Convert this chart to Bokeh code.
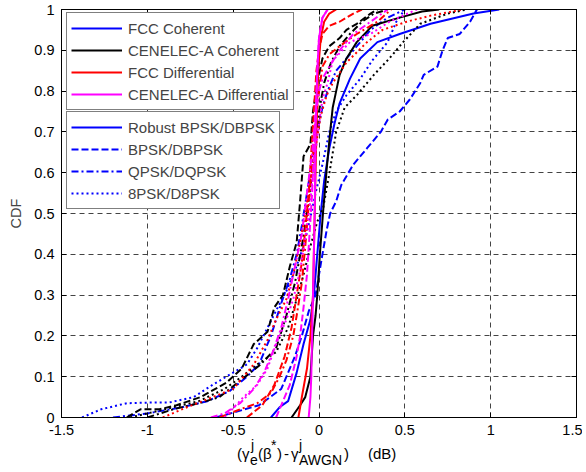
import numpy as np
from bokeh.plotting import figure
from bokeh.layouts import column
from bokeh.models import Legend, LegendItem, FixedTicker, Range1d, Div, LinearAxis
from bokeh.embed import file_html
from bokeh.resources import INLINE

# ---------------- data ----------------
x_ticks = [-1.5, -1, -0.5, 0, 0.5, 1, 1.5]
x_tick_labels = ["-1.5", "-1", "-0.5", "0", "0.5", "1", "1.5"]
y_ticks = [0, 0.1, 0.2, 0.3, 0.4, 0.5, 0.6, 0.7, 0.8, 0.9, 1]
y_tick_labels = ["0", "0.1", "0.2", "0.3", "0.4", "0.5", "0.6", "0.7", "0.8", "0.9", "1"]

standards = ["FCC Coherent", "CENELEC-A Coherent", "FCC Differential", "CENELEC-A Differential"]
schemes = ["Robust BPSK/DBPSK", "BPSK/DBPSK", "QPSK/DQPSK", "8PSK/D8PSK"]

# FCC Coherent (blue)
fcc_coh_robust_x = [-0.28, -0.23, -0.18, -0.13, -0.09, -0.05, -0.03, -0.01, 0.01, 0.03, 0.06, 0.09, 0.12, 0.18, 0.24, 0.34, 0.47, 0.65, 0.9, 1.05]
fcc_coh_robust_y = [0, 0.025, 0.04, 0.11, 0.18, 0.24, 0.3, 0.4, 0.5, 0.58, 0.66, 0.72, 0.77, 0.83, 0.88, 0.92, 0.94, 0.965, 0.99, 1.0]
fcc_coh_bpsk_x = [-0.6, -0.35, -0.22, -0.14, -0.1, -0.06, -0.02, 0.0, 0.02, 0.045, 0.065, 0.1, 0.13, 0.2, 0.28, 0.36, 0.40, 0.47, 0.53, 0.59, 0.61, 0.69, 0.72, 0.75, 0.82, 0.88, 0.92]
fcc_coh_bpsk_y = [0, 0.03, 0.07, 0.15, 0.2, 0.26, 0.3, 0.35, 0.4, 0.46, 0.5, 0.53, 0.57, 0.62, 0.66, 0.70, 0.73, 0.75, 0.78, 0.82, 0.84, 0.86, 0.9, 0.93, 0.94, 0.97, 1.0]
fcc_coh_qpsk_x = [-1.2, -1.0, -0.8, -0.65, -0.52, -0.42, -0.35, -0.28, -0.22, -0.17, -0.13, -0.1, -0.07, -0.04, -0.01, 0.02, 0.05, 0.1, 0.2, 0.3, 0.4, 0.5]
fcc_coh_qpsk_y = [0, 0.01, 0.025, 0.04, 0.065, 0.1, 0.13, 0.2, 0.28, 0.34, 0.4, 0.47, 0.55, 0.63, 0.7, 0.76, 0.8, 0.85, 0.9, 0.95, 0.98, 1.0]
fcc_coh_8psk_x = [-1.38, -1.27, -1.12, -0.95, -0.87, -0.73, -0.62, -0.54, -0.42, -0.36, -0.3, -0.24, -0.19, -0.14, -0.09, -0.05, -0.02, 0.02, 0.06, 0.1, 0.16, 0.24, 0.31, 0.4, 0.45, 0.5]
fcc_coh_8psk_y = [0, 0.02, 0.035, 0.037, 0.037, 0.05, 0.08, 0.1, 0.13, 0.17, 0.22, 0.27, 0.31, 0.36, 0.42, 0.49, 0.55, 0.62, 0.7, 0.75, 0.79, 0.83, 0.875, 0.92, 0.97, 1.0]

# CENELEC-A Coherent (black)
cen_coh_robust_x = [-0.16, -0.11, -0.08, -0.05, -0.035, -0.02, -0.01, 0.005, 0.025, 0.045, 0.065, 0.08, 0.1, 0.12, 0.16, 0.22, 0.31, 0.47, 0.6, 0.7]
cen_coh_robust_y = [0, 0.03, 0.05, 0.1, 0.2, 0.25, 0.3, 0.4, 0.51, 0.61, 0.7, 0.76, 0.8, 0.84, 0.88, 0.92, 0.96, 0.98, 0.995, 1.0]
cen_coh_bpsk_x = [-1.12, -1.04, -0.93, -0.83, -0.69, -0.54, -0.45, -0.38, -0.3, -0.26, -0.21, -0.17, -0.13, -0.11, -0.09, -0.05, -0.035, -0.01, 0.02, 0.06, 0.12, 0.16, 0.22, 0.3, 0.34]
cen_coh_bpsk_y = [0, 0.02, 0.02, 0.03, 0.05, 0.085, 0.12, 0.18, 0.21, 0.27, 0.3, 0.37, 0.43, 0.53, 0.64, 0.67, 0.75, 0.82, 0.88, 0.91, 0.93, 0.95, 0.965, 0.99, 1.0]
cen_coh_qpsk_x = [-1.0, -0.85, -0.7, -0.58, -0.46, -0.34, -0.25, -0.19, -0.14, -0.1, -0.07, -0.04, -0.02, 0.0, 0.03, 0.07, 0.12, 0.18, 0.25, 0.32, 0.4]
cen_coh_qpsk_y = [0, 0.02, 0.035, 0.05, 0.09, 0.13, 0.17, 0.25, 0.33, 0.42, 0.5, 0.6, 0.68, 0.75, 0.82, 0.87, 0.91, 0.94, 0.97, 0.99, 1.0]
cen_coh_8psk_x = [-1.1, -0.9, -0.7, -0.55, -0.45, -0.36, -0.25, -0.18, -0.13, -0.09, -0.05, -0.01, 0.025, 0.065, 0.1, 0.15, 0.22, 0.32, 0.41, 0.49, 0.59, 0.75, 0.86]
cen_coh_8psk_y = [0, 0.02, 0.04, 0.07, 0.1, 0.13, 0.16, 0.22, 0.29, 0.35, 0.42, 0.48, 0.515, 0.61, 0.7, 0.76, 0.79, 0.84, 0.88, 0.92, 0.965, 0.99, 1.0]

# FCC Differential (red)
fcc_dif_robust_x = [-0.12, -0.1, -0.07, -0.05, -0.035, -0.025, -0.015, -0.005, 0.01, 0.03, 0.06, 0.1]
fcc_dif_robust_y = [0, 0.05, 0.12, 0.2, 0.3, 0.5, 0.7, 0.85, 0.93, 0.97, 0.99, 1.0]
fcc_dif_bpsk_x = [-0.42, -0.33, -0.26, -0.2, -0.16, -0.13, -0.1, -0.08, -0.06, -0.045, -0.03, -0.015, 0.0, 0.02, 0.06, 0.12, 0.16, 0.2, 0.25]
fcc_dif_bpsk_y = [0, 0.03, 0.08, 0.15, 0.22, 0.3, 0.38, 0.46, 0.55, 0.65, 0.75, 0.85, 0.9, 0.94, 0.96, 0.97, 0.98, 0.99, 1.0]
fcc_dif_qpsk_x = [-0.58, -0.46, -0.36, -0.28, -0.23, -0.19, -0.15, -0.13, -0.1, -0.08, -0.06, -0.04, -0.02, 0.0, 0.02, 0.06, 0.12, 0.22, 0.34, 0.42]
fcc_dif_qpsk_y = [0, 0.02, 0.035, 0.06, 0.1, 0.14, 0.2, 0.25, 0.33, 0.42, 0.52, 0.62, 0.72, 0.8, 0.86, 0.89, 0.91, 0.94, 0.97, 1.0]
fcc_dif_8psk_x = [-0.91, -0.77, -0.62, -0.5, -0.38, -0.3, -0.25, -0.19, -0.15, -0.11, -0.08, -0.05, -0.02, 0.01, 0.045, 0.08, 0.16, 0.28, 0.37, 0.51, 0.65, 0.84]
fcc_dif_8psk_y = [0, 0.025, 0.05, 0.07, 0.13, 0.19, 0.24, 0.29, 0.35, 0.43, 0.5, 0.58, 0.66, 0.74, 0.79, 0.82, 0.87, 0.92, 0.95, 0.97, 0.985, 1.0]

# CENELEC-A Differential (magenta)
cen_dif_robust_x = [-0.06, -0.05, -0.045, -0.035, -0.025, -0.02, -0.01, 0.0, 0.02, 0.05]
cen_dif_robust_y = [0, 0.05, 0.1, 0.3, 0.5, 0.7, 0.85, 0.93, 0.98, 1.0]
cen_dif_bpsk_x = [-0.25, -0.21, -0.17, -0.13, -0.11, -0.09, -0.07, -0.055, -0.04, -0.03, -0.02, -0.01, 0.0, 0.02, 0.05]
cen_dif_bpsk_y = [0, 0.04, 0.08, 0.15, 0.2, 0.27, 0.35, 0.45, 0.55, 0.65, 0.75, 0.85, 0.93, 0.98, 1.0]
cen_dif_qpsk_x = [-0.63, -0.55, -0.46, -0.38, -0.32, -0.27, -0.22, -0.18, -0.14, -0.1, -0.07, -0.04, -0.02, 0.0, 0.02, 0.06, 0.12, 0.2, 0.3, 0.4]
cen_dif_qpsk_y = [0, 0.01, 0.035, 0.07, 0.11, 0.16, 0.22, 0.29, 0.37, 0.45, 0.55, 0.65, 0.74, 0.8, 0.83, 0.86, 0.9, 0.94, 0.97, 1.0]
cen_dif_8psk_x = [-0.55, -0.44, -0.36, -0.3, -0.25, -0.19, -0.15, -0.11, -0.08, -0.05, -0.03, 0.0, 0.02, 0.05, 0.08, 0.18, 0.3, 0.41, 0.57]
cen_dif_8psk_y = [0, 0.05, 0.08, 0.12, 0.18, 0.24, 0.29, 0.36, 0.44, 0.53, 0.62, 0.72, 0.78, 0.82, 0.875, 0.92, 0.94, 0.97, 1.0]

# x-axis title pieces: (text, kind)  kind: main / sub / sup
xlabel_pieces = [("(γ", "main"), ("e", "sub"), ("j", "sup"), ("(β", "main"), ("*", "sup"),
                 (")", "main"), ("-", "main"), ("γ", "main"), ("j", "sup"), ("AWGN", "sub"),
                 (")", "main"), ("(dB)", "main")]

# ---------------- style ----------------
colors = ["#0000FF", "#000000", "#FF0000", "#FF00FF"]
dashes = ["solid", "7 3", "7 3 2 3", "2 3"]
FONT = "Liberation Sans"

curves = [
    [(fcc_coh_robust_x, fcc_coh_robust_y), (fcc_coh_bpsk_x, fcc_coh_bpsk_y), (fcc_coh_qpsk_x, fcc_coh_qpsk_y), (fcc_coh_8psk_x, fcc_coh_8psk_y)],
    [(cen_coh_robust_x, cen_coh_robust_y), (cen_coh_bpsk_x, cen_coh_bpsk_y), (cen_coh_qpsk_x, cen_coh_qpsk_y), (cen_coh_8psk_x, cen_coh_8psk_y)],
    [(fcc_dif_robust_x, fcc_dif_robust_y), (fcc_dif_bpsk_x, fcc_dif_bpsk_y), (fcc_dif_qpsk_x, fcc_dif_qpsk_y), (fcc_dif_8psk_x, fcc_dif_8psk_y)],
    [(cen_dif_robust_x, cen_dif_robust_y), (cen_dif_bpsk_x, cen_dif_bpsk_y), (cen_dif_qpsk_x, cen_dif_qpsk_y), (cen_dif_8psk_x, cen_dif_8psk_y)],
]

FRAME_W, FRAME_H = 515, 408
B_LEFT, B_RIGHT, B_TOP, B_BOTTOM = 61, 6, 9, 24
TOTAL_W = B_LEFT + FRAME_W + B_RIGHT

p = figure(frame_width=FRAME_W, frame_height=FRAME_H,
           x_range=Range1d(-1.5, 1.5), y_range=Range1d(0, 1),
           output_backend="svg", toolbar_location=None,
           min_border_left=B_LEFT, min_border_right=B_RIGHT,
           min_border_top=B_TOP, min_border_bottom=B_BOTTOM)
p.background_fill_color = "white"
p.border_fill_color = "white"
p.outline_line_color = "black"
p.outline_line_width = 1

bottom_ax = p.below[0]
left_ax = p.left[0]

# mirrored tick-only axes on top and right (box style)
top_ax = LinearAxis()
right_ax = LinearAxis()
p.add_layout(top_ax, "above")
p.add_layout(right_ax, "right")

for ax, ticks in ((bottom_ax, x_ticks), (left_ax, y_ticks), (top_ax, x_ticks), (right_ax, y_ticks)):
    ax.ticker = FixedTicker(ticks=ticks)
    ax.major_tick_in = 5
    ax.major_tick_out = 0
    ax.minor_tick_line_color = None
    ax.axis_line_color = "black"
    ax.major_tick_line_color = "black"

for ax, ticks, labels in ((bottom_ax, x_ticks, x_tick_labels), (left_ax, y_ticks, y_tick_labels)):
    ax.major_label_overrides = {t: l for t, l in zip(ticks, labels)}
    ax.major_label_text_font = FONT
    ax.major_label_text_font_size = "14.5px"
    ax.major_label_text_color = "black"
    ax.major_label_standoff = 7

for ax in (top_ax, right_ax):
    ax.major_label_text_color = None
    ax.major_label_standoff = 0
    ax.major_label_text_font_size = "1px"

left_ax.axis_label = "CDF"
left_ax.axis_label_text_font = FONT
left_ax.axis_label_text_font_size = "14.5px"
left_ax.axis_label_text_font_style = "normal"
left_ax.axis_label_standoff = 7

for g in (p.xgrid[0], p.ygrid[0]):
    g.grid_line_color = "#444444"
    g.grid_line_dash = "5 4"
    g.grid_line_width = 1

for ci, row in enumerate(curves):
    for si, (xs, ys) in enumerate(row):
        p.line(xs, ys, line_color=colors[ci], line_dash=dashes[si], line_width=2)

# legend proxies
std_items = []
for ci, name in enumerate(standards):
    r = p.line([np.nan], [np.nan], line_color=colors[ci], line_width=2)
    std_items.append(LegendItem(label=name, renderers=[r]))
sch_items = []
for si, name in enumerate(schemes):
    r = p.line([np.nan], [np.nan], line_color=colors[0], line_dash=dashes[si], line_width=2)
    sch_items.append(LegendItem(label=name, renderers=[r]))

def make_legend(items, loc):
    lg = Legend(items=items, location=loc, orientation="vertical")
    lg.border_line_color = "black"
    lg.border_line_width = 1
    lg.background_fill_color = "white"
    lg.background_fill_alpha = 1
    lg.label_text_font = FONT
    lg.label_text_font_size = "15px"
    lg.glyph_width = 51
    lg.glyph_height = 22
    lg.label_height = 22
    lg.spacing = 0
    lg.padding = 4
    lg.label_standoff = 6
    lg.margin = 0
    return lg

p.add_layout(make_legend(std_items, (5, 307)))
p.add_layout(make_legend(sch_items, (5, 208)))

# ---------------- x-axis title (HTML text with sub/superscripts) ----------------
piece_pos = [237, 250, 251, 258, 271, 277, 284, 291, 299, 299, 344, 368]
sizes = {"main": 15, "sub": 14, "sup": 14}
baselines = {"main": 18, "sub": 23.5, "sup": 8.5}
spans = []
for (txt, kind), left in zip(xlabel_pieces, piece_pos):
    fs = sizes[kind]
    top = baselines[kind] - 0.8465 * fs
    spans.append(
        f'<span style="position:absolute;left:{left}px;top:{top:.1f}px;'
        f'font-size:{fs}px;line-height:1;white-space:nowrap">{txt}</span>')
html = (f'<div style="position:relative;width:{TOTAL_W}px;height:26px;'
        f'font-family:\'{FONT}\';color:black;overflow:visible">' + "".join(spans) + '</div>')
title_div = Div(text=html, width=TOTAL_W, height=26, margin=(0, 0, 0, 0))

layout = column(p, title_div, spacing=0)
open("out.html", "w").write(file_html(layout, INLINE))
